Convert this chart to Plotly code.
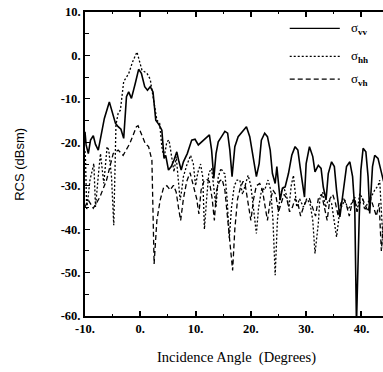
import plotly.graph_objects as go

# ---- data ----
vv_x = [-10, -9.8, -9.4, -9.0, -8.5, -8.1, -7.6, -7.0, -6.5, -5.6, -5.0, -4.5, -4.0, -3.5, -3.0,
        -2.5, -2.1, -1.6, -0.9, -0.3, 0.2, 0.8, 1.3, 1.8, 2.3, 2.8, 3.4, 3.9, 4.3, 4.6, 5.1, 5.6,
        6.1, 6.6, 7.0, 7.4, 7.8, 8.5, 9.3, 9.9, 10.5, 11.1, 12.0, 12.5, 12.9, 13.3, 13.7, 14.1,
        14.7, 15.3, 15.8, 16.2, 16.6, 17.1, 17.7, 18.6, 19.2, 19.8, 20.4, 21.0, 21.5, 21.9, 22.5,
        23.0, 23.5, 23.9, 24.4, 24.7, 25.0, 25.3, 25.7, 26.2, 26.8, 27.4, 28.0, 28.5, 28.9, 29.4,
        29.7, 30.0, 30.6, 31.2, 31.6, 32.2, 32.7, 33.1, 33.6, 34.0, 34.6, 35.1, 35.5, 36.1, 36.6,
        37.3, 37.9, 38.4, 38.8, 39.1, 39.6, 39.9, 40.3, 40.8, 41.2, 41.5, 42.0, 42.4, 43.0, 43.6, 44.0]
vv_y = [-17.6, -20.6, -22.6, -19.5, -18.5, -20.5, -21.8, -18.0, -14.5, -10.7, -13.5, -15.6, -16.4, -17.0, -19.1,
        -9.5, -8.4, -9.9, -6.4, -3.2, -4.1, -7.2, -8.0, -7.2, -8.4, -14.9, -16.0, -17.2, -23.7, -23.0, -26.4, -25.6,
        -24.1, -22.2, -24.5, -26.4, -24.5, -22.6, -19.5, -19.3, -20.6, -19.9, -18.7, -18.3, -21.8, -28.3, -22.6, -19.9,
        -18.7, -17.5, -17.9, -21.8, -27.9, -21.0, -18.7, -17.2, -16.4, -18.7, -23.3, -27.9, -24.9, -19.5, -17.9,
        -18.7, -21.8, -27.2, -29.5, -25.6, -29.5, -33.3, -30.6, -30.3, -27.2, -23.0, -21.0, -21.8, -25.6, -30.3,
        -32.6, -24.9, -21.0, -23.3, -26.8, -25.3, -26.0, -30.3, -33.3, -27.2, -24.5, -25.6, -31.0, -37.2, -32.6,
        -25.6, -24.5, -27.9, -35.6, -62.0, -37.2, -26.4, -21.4, -22.2, -27.9, -36.4, -25.6, -23.0, -23.7, -27.2, -29.0]

hh_x = [-10, -9.9, -9.7, -9.1, -8.4, -8.1, -7.5, -7.2, -6.6, -6.0, -5.7, -5.2, -4.8, -4.4, -4.0, -3.6,
        -3.0, -2.5, -2.1, -1.4, -0.6, 0.3, 1.2, 1.8, 2.4, 3.0, 3.5, 3.9, 4.3, 4.8, 5.2, 5.7, 6.1, 6.5,
        6.9, 7.2, 7.5, 7.8, 8.4, 9.1, 9.6, 10.0, 10.4, 10.9, 11.3, 11.6, 12.0, 12.4, 12.9, 13.3, 13.7,
        14.1, 14.6, 15.0, 15.3, 15.7, 16.1, 16.5, 17.0, 17.5, 18.0, 18.5, 18.9, 19.5, 20.0, 20.5, 21.0,
        21.4, 22.0, 22.5, 23.1, 23.6, 24.0, 24.4, 24.8, 25.3, 25.9, 26.4, 26.9, 27.3, 27.7, 28.3, 28.8,
        29.5, 30.1, 30.7, 31.2, 31.6, 32.2, 32.5, 33.0, 33.5, 34.0, 34.6, 35.1, 35.5, 36.1, 37.0, 37.6,
        38.2, 38.8, 39.2, 39.7, 40.2, 40.6, 41.1, 41.5, 42.0, 42.4, 43.0, 43.3, 43.7, 44.0]
hh_y = [-22.0, -24.1, -35.6, -28.7, -24.9, -34.9, -26.4, -22.6, -29.5, -21.0, -21.8, -28.0, -39.1, -16.0, -13.3, -12.6,
        -6.0, -4.9, -4.2, -1.5, 0.8, -3.4, -4.1, -5.5, -10.0, -14.9, -15.6, -21.0, -23.6, -19.9, -19.5, -24.1, -26.8, -23.3,
        -29.5, -33.3, -31.0, -27.9, -25.3, -23.0, -25.0, -30.0, -27.0, -25.0, -28.0, -40.0, -33.0, -27.0, -26.0, -30.0, -35.0,
        -28.0, -26.0, -27.0, -27.2, -33.0, -42.0, -35.0, -30.0, -28.7, -28.7, -32.0, -30.0, -27.6, -30.0, -36.0, -41.0,
        -35.0, -30.5, -31.0, -28.7, -31.0, -38.0, -50.6, -38.0, -32.0, -30.3, -32.0, -35.0, -30.0, -27.6, -34.9, -33.0,
        -34.9, -33.0, -34.1, -38.0, -45.6, -38.7, -32.6, -31.5, -35.0, -33.3, -34.1, -38.0, -41.8, -35.6, -33.3, -35.5,
        -34.0, -32.6, -36.0, -31.8, -33.0, -35.6, -34.0, -33.3, -32.0, -31.0, -30.0, -28.7, -38.0, -45.0]

vh_x = [-10, -9.4, -8.5, -7.3, -6.1, -4.9, -4.0, -3.1, -1.9, -0.7, -0.4, 0.9, 1.5, 2.1, 2.5, 3.0,
        3.6, 4.2, 4.8, 5.4, 6.0, 6.5, 6.9, 7.3, 7.8, 8.4, 9.0, 9.6, 10.2, 10.6, 11.0, 11.5, 12.0, 12.5,
        13.0, 13.4, 13.8, 14.3, 14.8, 15.3, 15.8, 16.3, 16.7, 17.1, 17.6, 18.1, 18.6, 19.0, 19.5, 20.0,
        20.5, 21.0, 21.6, 22.1, 22.6, 23.0, 23.5, 24.0, 24.5, 25.0, 25.5, 26.0, 26.5, 27.0, 27.5, 28.0,
        28.5, 29.0, 29.5, 30.0, 30.6, 31.2, 31.7, 32.2, 32.8, 33.3, 33.8, 34.3, 34.8, 35.3, 35.8, 36.3,
        36.8, 37.3, 37.8, 38.3, 38.8, 39.2, 39.7, 40.2, 40.7, 41.2, 41.7, 42.2, 42.7, 43.2, 43.6, 44.0]
vh_y = [-34.9, -33.3, -35.2, -32.6, -28.7, -22.6, -21.8, -23.0, -20.3, -16.4, -16.2, -20.3, -21.0, -24.1, -48.0, -38.0,
        -33.3, -30.5, -30.0, -31.0, -29.9, -31.5, -35.0, -38.0, -33.0, -29.0, -27.0, -30.0, -33.0, -36.5, -31.0, -29.0, -28.5, -29.0,
        -33.0, -38.0, -31.0, -29.0, -28.5, -31.0, -38.0, -45.0, -49.5, -40.0, -33.0, -30.5, -29.0, -30.0, -34.0, -38.0,
        -33.0, -30.0, -29.5, -31.0, -35.0, -38.0, -33.5, -31.0, -32.0, -36.0, -34.0, -32.0, -33.0, -36.0, -35.0, -33.0,
        -34.0, -37.0, -35.0, -33.5, -33.0, -35.0, -37.0, -33.0, -32.0, -35.0, -38.0, -33.0, -32.0, -34.0, -37.0, -34.0,
        -33.0, -34.5, -37.0, -34.0, -33.0, -36.0, -34.0, -33.0, -34.5, -36.0, -33.0, -35.0, -37.0, -34.0, -45.0, -38.0]

x_tickvals = [-10, 0, 10, 20, 30, 40]
x_ticktext = ["-10.", "0.", "10.", "20.", "30.", "40."]
y_tickvals = [10, 0, -10, -20, -30, -40, -50, -60]
y_ticktext = ["10.", "0.", "-10.", "-20.", "-30.", "-40.", "-50.", "-60."]
legend_names = ["σ<sub><b>vv</b></sub>", "σ<sub><b>hh</b></sub>", "σ<sub><b>vh</b></sub>"]

fig = go.Figure()
fig.add_trace(go.Scatter(x=vv_x, y=vv_y, mode="lines", line=dict(color="black", width=1.6)))
fig.add_trace(go.Scatter(x=hh_x, y=hh_y, mode="lines", line=dict(color="black", width=1.3, dash="2px,2px")))
fig.add_trace(go.Scatter(x=vh_x, y=vh_y, mode="lines", line=dict(color="black", width=1.3, dash="5px,3px")))

tickfont = dict(family="Liberation Serif", size=12.5, color="black", weight="bold")

fig.update_layout(
    width=383, height=372,
    margin=dict(l=85, r=0, t=12, b=56),
    paper_bgcolor="white", plot_bgcolor="white",
    showlegend=False,
    xaxis=dict(range=[-10, 43.9], showgrid=False, zeroline=False, showline=True, linecolor="black",
               linewidth=2, mirror="ticks", ticks="inside", ticklen=5, tickwidth=1.5, tickcolor="black",
               tickvals=x_tickvals, ticktext=x_ticktext, tickfont=tickfont,
               minor=dict(dtick=5, tick0=0, ticks="inside", ticklen=2, tickwidth=1.2, tickcolor="black", showgrid=False)),
    yaxis=dict(range=[-60, 10], showgrid=False, zeroline=False, showline=True, linecolor="black",
               linewidth=2, mirror=False, ticks="inside", ticklen=5, tickwidth=1.2, tickcolor="black",
               tickvals=y_tickvals, ticktext=y_ticktext, tickfont=tickfont,
               minor=dict(dtick=5, tick0=0, ticks="inside", ticklen=4, tickwidth=1.2, tickcolor="black", showgrid=False)),
)

# axis titles
fig.add_annotation(text="RCS (dBsm)", xref="paper", yref="paper", x=-0.222, y=0.5, textangle=-90,
                   showarrow=False, font=dict(family="Liberation Sans", size=13, color="black"),
                   xanchor="center", yanchor="middle")
fig.add_annotation(text="Incidence Angle  (Degrees)", xref="paper", yref="paper", x=0.51, y=-0.135,
                   showarrow=False, font=dict(family="Liberation Serif", size=14.5, color="black"),
                   xanchor="center", yanchor="middle")

# manual legend
leg_dash = ["solid", "2px,2px", "5px,3px"]
leg_y = [0.946, 0.854, 0.779]
for name, dsh, yy in zip(legend_names, leg_dash, leg_y):
    fig.add_shape(type="line", xref="paper", yref="paper", x0=0.687, x1=0.855, y0=yy, y1=yy,
                  line=dict(color="black", width=1.3, dash=dsh))
    fig.add_annotation(text=name, xref="paper", yref="paper", x=0.885, y=yy, showarrow=False,
                       xanchor="left", yanchor="middle",
                       font=dict(family="Liberation Serif", size=13, color="black"))

fig.write_html("out.html")
